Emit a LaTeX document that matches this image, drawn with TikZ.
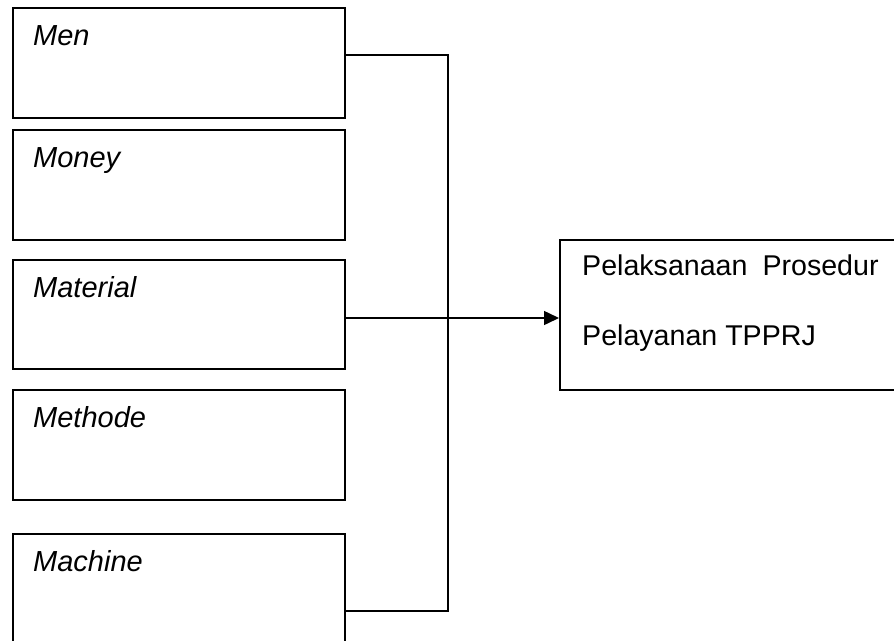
\documentclass[tikz,border=0pt]{standalone}
\usepackage{fontspec}
\setmainfont{Liberation Sans}
\usetikzlibrary{arrows.meta}
\begin{document}
\begin{tikzpicture}[x=1pt,y=-1pt,
  inbox/.style={draw, line width=1.5pt, rectangle, inner sep=0pt},
  lbl/.style={anchor=base west, inner sep=0pt, font=\fontsize{29}{35}\selectfont\itshape},
  rlbl/.style={anchor=base west, inner sep=0pt, font=\fontsize{28.6}{35}\selectfont},
  conn/.style={line width=1.5pt}]
\useasboundingbox (0,0) rectangle (894,640);
\clip (0,0) rectangle (894,640);
% input boxes
\node[inbox, minimum width=332pt, minimum height=110pt, anchor=north west] (men) at (12,7) {};
\node[inbox, minimum width=332pt, minimum height=110pt, anchor=north west] (money) at (12,129) {};
\node[inbox, minimum width=332pt, minimum height=109pt, anchor=north west] (material) at (12,259) {};
\node[inbox, minimum width=332pt, minimum height=110pt, anchor=north west] (methode) at (12,389) {};
\node[inbox, minimum width=332pt, minimum height=120pt, anchor=north west] (machine) at (12,533) {};
% labels
\node[lbl] (tmen) at (33,45) {Men};
\node[lbl] (tmoney) at (33,167) {Money};
\node[lbl] (tmaterial) at (33,297) {Material};
\node[lbl] (tmethode) at (33,427) {Methode};
\node[lbl] (tmachine) at (33,571) {Machine};
% result box
\node[inbox, minimum width=360pt, minimum height=150pt, anchor=north west] (result) at (559,239) {};
\node[rlbl] (r1) at (582,275) {Pelaksanaan\hspace{15pt}Prosedur};
\node[rlbl] (r2) at (582,345) {Pelayanan TPPRJ};
% connectors
\coordinate (bt) at (448,55);
\coordinate (bm) at (448,318);
\coordinate (bb) at (448,611);
\draw[conn] (men.east |- bt) -- (bt) -- (bb) -- (machine.east |- bb);
\draw[conn] (material.east |- bm) -- (bm);
\draw[conn, -{Triangle[length=15pt,width=14pt]}] (bm) -- (result.west |- bm);
\end{tikzpicture}
\end{document}
